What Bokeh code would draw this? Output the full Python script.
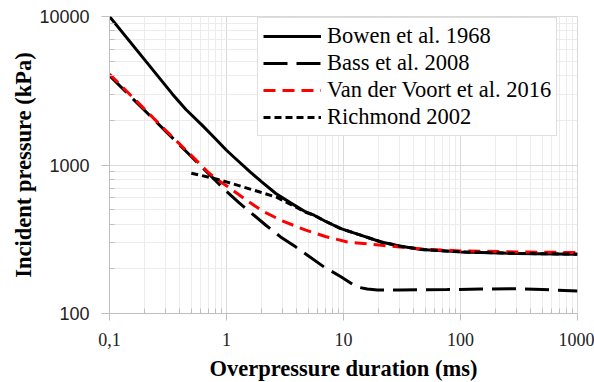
from bokeh.plotting import figure
from bokeh.models import FixedTicker
from bokeh.embed import file_html
from bokeh.resources import INLINE

# ---- data ----
bowen_x = [0.1, 0.2, 0.3455, 0.45, 0.624, 0.8, 1.0, 1.16, 1.6, 2.0, 2.64, 3.5, 4.76, 5.6, 7, 9.5, 14, 21, 30, 46, 100, 300, 1000]
bowen_y = [10000, 5100, 3000, 2365, 1840, 1509, 1257, 1128, 894, 770, 643, 558, 483, 459, 418, 373, 337, 303, 285, 270, 260, 254, 251]

bass_x = [0.1, 0.3, 0.5, 0.8, 1.0, 1.27, 2.17, 2.9, 3.9, 6.8, 9.5, 13, 16, 19.5, 30, 77, 150, 287, 500, 1000]
bass_y = [4000, 1697, 1140, 789, 664, 560, 393, 328, 281, 206, 177, 151, 146, 144, 144, 145, 146, 147, 145, 142]

voort_x = [0.1, 0.3, 0.5, 0.7, 0.85, 1.0, 1.5, 2.03, 3.0, 4.76, 7, 10.8, 21, 46, 100, 300, 1000]
voort_y = [4100, 1720, 1160, 890, 790, 725, 575, 490, 420, 364, 330, 303, 288, 272, 264, 260, 257]

richmond_x = [0.5, 0.8, 1.0, 1.9, 2.7, 3.5, 4.76, 5.6, 7, 9.5, 14, 21, 30, 46, 100, 300, 1000]
richmond_y = [880, 810, 770, 660, 605, 545, 480, 459, 418, 373, 337, 303, 285, 270, 260, 254, 251]

series_names = ["Bowen et al. 1968", "Bass et al. 2008", "Van der Voort et al. 2016", "Richmond 2002"]

x_ticks = [0.1, 1, 10, 100, 1000]
x_tick_labels = ["0,1", "1", "10", "100", "1000"]
y_ticks = [100, 1000, 10000]
y_tick_labels = ["100", "1000", "10000"]
x_minor = [m * 10.0 ** e for e in range(-1, 3) for m in range(2, 10)]
y_minor = [m * 10.0 ** e for e in range(2, 4) for m in range(2, 10)]

SERIF = "Liberation Serif"
SANS = "Liberation Sans"

p = figure(
    x_axis_type="log", y_axis_type="log",
    x_range=(0.1, 1000), y_range=(100, 10000),
    frame_width=468, frame_height=297,
    min_border_left=109, min_border_right=17, min_border_top=16, min_border_bottom=66,
    output_backend="svg", toolbar_location=None,
    background_fill_color="white", border_fill_color="white",
)
p.outline_line_color = "#d9d9d9"

p.line(bowen_x, bowen_y, line_color="black", line_width=3, legend_label=series_names[0])
p.line(bass_x, bass_y, line_color="black", line_width=3, line_dash="24 9", legend_label=series_names[1])
p.line(voort_x, voort_y, line_color="#ff0000", line_width=3, line_dash="12 7", legend_label=series_names[2])
p.line(richmond_x, richmond_y, line_color="black", line_width=3, line_dash="7 4", legend_label=series_names[3])

# axes
p.xaxis.ticker = FixedTicker(ticks=x_ticks, minor_ticks=x_minor)
p.yaxis.ticker = FixedTicker(ticks=y_ticks, minor_ticks=y_minor)
p.xaxis.major_label_overrides = dict(zip(x_ticks, x_tick_labels))
p.yaxis.major_label_overrides = dict(zip(y_ticks, y_tick_labels))

for ax in (p.xaxis, p.yaxis):
    ax.axis_line_color = "#bfbfbf"
    ax.major_tick_line_color = "#bfbfbf"
    ax.minor_tick_line_color = "#bfbfbf"
    ax.major_tick_in = 0
    ax.minor_tick_out = 0
    ax.minor_tick_in = 5
    ax.major_label_text_color = "#222222"
    ax.axis_label_text_color = "black"
    ax.axis_label_text_font = SERIF
    ax.axis_label_text_font_style = "bold"
    ax.axis_label_text_font_size = "22.5px"

p.xaxis.major_tick_out = 7
p.yaxis.major_tick_out = 8
p.xaxis.major_label_text_font = SERIF
p.xaxis.major_label_text_font_size = "18px"
p.yaxis.major_label_text_font = SANS
p.yaxis.major_label_text_font_size = "18px"
p.xaxis.major_label_standoff = 12
p.yaxis.major_label_standoff = 12
p.xaxis.axis_label_standoff = 7
p.yaxis.axis_label_standoff = 0
p.xaxis.axis_label = "Overpressure duration (ms)"
p.yaxis.axis_label = "Incident pressure (kPa)"

# grid
for g in (p.xgrid, p.ygrid):
    g.grid_line_color = "#d9d9d9"
    g.minor_grid_line_color = "#ececec"

# legend
lg = p.legend[0]
lg.location = (148, 177)
lg.padding = 5
lg.spacing = 1
lg.glyph_width = 58
lg.glyph_height = 20
lg.label_height = 20
lg.label_standoff = 6
lg.label_text_font = SERIF
lg.label_text_font_size = "22.5px"
lg.label_text_color = "black"
lg.border_line_color = "#bfbfbf"
lg.background_fill_color = "white"
lg.background_fill_alpha = 1.0

open("out.html", "w").write(file_html(p, INLINE))
